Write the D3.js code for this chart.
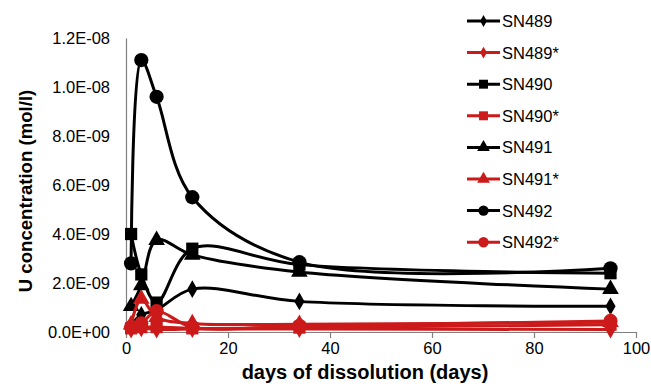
<!DOCTYPE html>
<html>
<head>
<meta charset="utf-8">
<script src="https://cdn.jsdelivr.net/npm/d3@7"></script>
<style>
  body { margin: 0; background: #fff; }
  text { font-family: Arial, "Liberation Sans", sans-serif; }
</style>
</head>
<body>
<svg id="chart" width="651" height="384"></svg>
<script>
const days = [1, 3, 6, 13, 34, 95];
const seriesNames = ["SN489", "SN489*", "SN490", "SN490*", "SN491", "SN491*", "SN492", "SN492*"];
const sn489 = [0.3e-9, 0.7e-9, 0.9e-9, 1.75e-9, 1.25e-9, 1.05e-9];
const sn489s = [0.1e-9, 0.15e-9, 0.1e-9, 0.12e-9, 0.12e-9, 0.1e-9];
const sn490 = [4.0e-9, 2.35e-9, 1.2e-9, 3.4e-9, 2.75e-9, 2.4e-9];
const sn490s = [0.15e-9, 0.2e-9, 0.2e-9, 0.15e-9, 0.18e-9, 0.3e-9];
const sn491 = [1.05e-9, 1.9e-9, 3.75e-9, 3.15e-9, 2.45e-9, 1.75e-9];
const sn491s = [0.3e-9, 1.35e-9, 0.6e-9, 0.35e-9, 0.32e-9, 0.4e-9];
const sn492 = [2.8e-9, 11.1e-9, 9.6e-9, 5.5e-9, 2.85e-9, 2.6e-9];
const sn492s = [0.2e-9, 0.35e-9, 0.85e-9, 0.2e-9, 0.25e-9, 0.45e-9];
const yTicks = [0, 2e-9, 4e-9, 6e-9, 8e-9, 10e-9, 12e-9];
const yTickLabels = ["0.0E+00", "2.0E-09", "4.0E-09", "6.0E-09", "8.0E-09", "1.0E-08", "1.2E-08"];
const xTicks = [0, 20, 40, 60, 80, 100];

const black = "#000";
const red = "#cc1a1a";

const series = [
  { name: "SN489", values: sn489, color: black, shape: d3.symbolDiamond },
  { name: "SN490", values: sn490, color: black, shape: d3.symbolSquare },
  { name: "SN491", values: sn491, color: black, shape: d3.symbolTriangle },
  { name: "SN492", values: sn492, color: black, shape: d3.symbolCircle },
  { name: "SN489*", values: sn489s, color: red, shape: d3.symbolDiamond },
  { name: "SN490*", values: sn490s, color: red, shape: d3.symbolSquare },
  { name: "SN491*", values: sn491s, color: red, shape: d3.symbolTriangle },
  { name: "SN492*", values: sn492s, color: red, shape: d3.symbolCircle }
];

const markerSize = new Map([
  [d3.symbolDiamond, 90],
  [d3.symbolSquare, 150],
  [d3.symbolTriangle, 120],
  [d3.symbolCircle, 160]
]);
const legendSize = new Map([
  [d3.symbolDiamond, 40],
  [d3.symbolSquare, 80],
  [d3.symbolTriangle, 70],
  [d3.symbolCircle, 85]
]);

const svg = d3.select("#chart");

const x = d3.scaleLinear().domain([0, 100]).range([126, 636]);
const y = d3.scaleLinear().domain([0, 12e-9]).range([332, 38]);

// axes
const xAxis = svg.append("g")
  .attr("transform", "translate(0,332)")
  .call(d3.axisBottom(x).tickValues(xTicks).tickSize(6).tickPadding(4).tickSizeOuter(0));
xAxis.select(".domain").attr("stroke", "#808080").attr("stroke-width", 1.2);
xAxis.selectAll(".tick line").attr("stroke", "#808080").attr("stroke-width", 1.2);
xAxis.selectAll(".tick text").attr("font-size", 16.5).attr("fill", "#000");

const yAxis = svg.append("g")
  .attr("transform", "translate(126,0)")
  .call(d3.axisLeft(y).tickValues(yTicks).tickSize(0).tickPadding(16)
    .tickFormat((d, i) => yTickLabels[i]));
yAxis.select(".domain").attr("stroke", "#808080").attr("stroke-width", 1.2);
yAxis.selectAll(".tick text").attr("font-size", 16.5).attr("fill", "#000");

// titles
svg.append("text")
  .attr("transform", "translate(32,191) rotate(-90)")
  .attr("text-anchor", "middle")
  .attr("font-size", 18.6)
  .attr("font-weight", "bold")
  .text("U concentration (mol/l)");

svg.append("text")
  .attr("x", 365)
  .attr("y", 379)
  .attr("text-anchor", "middle")
  .attr("font-size", 20)
  .attr("font-weight", "bold")
  .text("days of dissolution (days)");

// lines
const line = d3.line()
  .x((d, i) => x(days[i]))
  .y((d) => y(d))
  .curve(d3.curveCatmullRom.alpha(0.5));

series.forEach((s) => {
  svg.append("path")
    .attr("d", line(s.values))
    .attr("fill", "none")
    .attr("stroke", s.color)
    .attr("stroke-width", 3);

  svg.append("g")
    .selectAll("path")
    .data(s.values)
    .join("path")
    .attr("transform", (d, i) => `translate(${x(days[i])},${y(d)})`)
    .attr("d", d3.symbol().type(s.shape).size(markerSize.get(s.shape)))
    .attr("fill", s.color);
});

// legend
const legendOrder = seriesNames.map((n) => series.find((s) => s.name === n));
const legend = svg.append("g");
legendOrder.forEach((s, i) => {
  const ly = 21 + i * 31.6;
  legend.append("line")
    .attr("x1", 467).attr("x2", 500)
    .attr("y1", ly).attr("y2", ly)
    .attr("stroke", s.color)
    .attr("stroke-width", 3);
  legend.append("path")
    .attr("transform", `translate(483.5,${ly})`)
    .attr("d", d3.symbol().type(s.shape).size(legendSize.get(s.shape)))
    .attr("fill", s.color);
  legend.append("text")
    .attr("x", 502)
    .attr("y", ly + 6)
    .attr("font-size", 16.5)
    .text(s.name);
});
</script>
</body>
</html>
